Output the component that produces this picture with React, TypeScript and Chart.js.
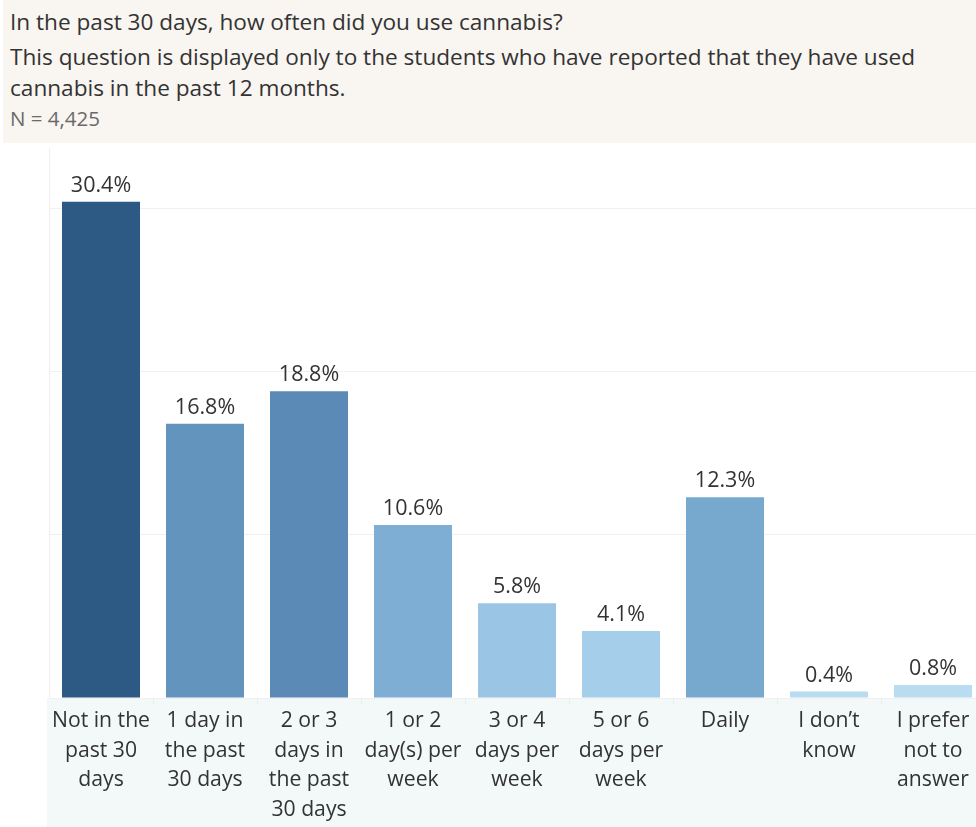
import React, { useEffect, useRef } from "react";
import { Chart, registerables } from "chart.js";

Chart.register(...registerables);

const categories: string[][] = [
  ["Not in the", "past 30", "days"],
  ["1 day in", "the past", "30 days"],
  ["2 or 3", "days in", "the past", "30 days"],
  ["1 or 2", "day(s) per", "week"],
  ["3 or 4", "days per", "week"],
  ["5 or 6", "days per", "week"],
  ["Daily"],
  ["I don\u2019t", "know"],
  ["I prefer", "not to", "answer"],
];
const values: number[] = [30.4, 16.8, 18.8, 10.6, 5.8, 4.1, 12.3, 0.4, 0.8];
const valueLabels: string[] = ["30.4%", "16.8%", "18.8%", "10.6%", "5.8%", "4.1%", "12.3%", "0.4%", "0.8%"];
const gridTicks: number[] = [0, 10, 20, 30];
const barColors: string[] = [
  "#2d5985",
  "#6394bd",
  "#5a8ab5",
  "#7faed4",
  "#9bc5e4",
  "#a4cee9",
  "#77a8ce",
  "#b9dcf1",
  "#b9dcf1",
];
const titleLines: string[] = [
  "In the past 30 days, how often did you use cannabis?",
  "This question is displayed only to the students who have reported that they have used",
  "cannabis in the past 12 months.",
];
const nLabel = "N = 4,425";

const FONT = "'Open Sans', 'Noto Sans', sans-serif";

export default function App() {
  const ref = useRef<HTMLCanvasElement | null>(null);

  useEffect(() => {
    if (!ref.current) return;
    const bgPlugin = {
      id: "labelBg",
      beforeDraw(chart: any) {
        const { ctx, chartArea } = chart;
        ctx.save();
        ctx.fillStyle = "#f3f8f8";
        ctx.fillRect(chartArea.left - 2, chartArea.bottom, chartArea.right - chartArea.left + 2, chart.height - chartArea.bottom);
        const xs = chart.scales.x;
        ctx.strokeStyle = "#e6eded";
        ctx.lineWidth = 1;
        for (let i = 1; i < values.length; i++) {
          const x = (xs.getPixelForValue(i - 1) + xs.getPixelForValue(i)) / 2;
          ctx.beginPath();
          ctx.moveTo(Math.round(x) + 0.5, chartArea.bottom);
          ctx.lineTo(Math.round(x) + 0.5, chartArea.bottom + 7);
          ctx.stroke();
        }
        ctx.restore();
      },
      afterDatasetsDraw(chart: any) {
        const { ctx } = chart;
        const meta = chart.getDatasetMeta(0);
        ctx.save();
        ctx.fillStyle = "#333333";
        ctx.font = `21.5px ${FONT}`;
        ctx.textAlign = "center";
        ctx.textBaseline = "middle";
        meta.data.forEach((bar: any, i: number) => {
          ctx.fillText(valueLabels[i], bar.x, bar.y - 16);
        });
        ctx.restore();
      },
    };

    const chart = new Chart(ref.current, {
      type: "bar",
      data: {
        labels: categories,
        datasets: [
          {
            data: values,
            backgroundColor: barColors,
            categoryPercentage: 1,
            barPercentage: 0.75,
          },
        ],
      },
      options: {
        animation: false,
        responsive: false,
        maintainAspectRatio: false,
        layout: { padding: { top: 5, left: 0, right: 0, bottom: 0 } },
        plugins: {
          legend: { display: false },
          tooltip: { enabled: false },
        },
        scales: {
          x: {
            grid: { display: false },
            border: { display: false },
            ticks: {
              color: "#333333",
              font: { family: FONT, size: 21.2, lineHeight: 1.4 },
              padding: 0,
              maxRotation: 0,
              autoSkip: false,
            },
            afterFit(scale: any) {
              scale.height = 129;
            },
          },
          y: {
            min: 0,
            max: 33.7,
            ticks: { display: false },
            afterBuildTicks(scale: any) {
              scale.ticks = gridTicks.map((v) => ({ value: v }));
            },
            grid: { color: "#f0f0f0", drawTicks: false, lineWidth: 1 },
            border: { display: true, color: "#f0f0f0" },
            afterFit(scale: any) {
              scale.width = 49;
            },
          },
        },
      },
      plugins: [bgPlugin],
    });
    return () => chart.destroy();
  }, []);

  return (
    <div style={{ position: "fixed", left: 0, top: 0, width: 976, height: 827, background: "#ffffff", fontFamily: FONT, overflow: "hidden" }}>
      <div style={{ position: "absolute", left: 3, top: 0, width: 973, height: 143, background: "#f9f5f1" }}>
        <div style={{ position: "absolute", left: 7, top: 6, fontSize: 22.6, color: "#333", whiteSpace: "nowrap", lineHeight: "31px" }}>{titleLines[0]}</div>
        <div style={{ position: "absolute", left: 7, top: 41, fontSize: 22.6, color: "#333", whiteSpace: "nowrap", lineHeight: "31px" }}>
          {titleLines[1]}
          <br />
          {titleLines[2]}
        </div>
        <div style={{ position: "absolute", left: 7, top: 104, fontSize: 20.5, color: "#6a6a6a", whiteSpace: "nowrap", lineHeight: "28px" }}>{nLabel}</div>
      </div>
      <canvas ref={ref} width={985} height={684} style={{ position: "absolute", left: 0, top: 143, width: 985, height: 684 }} />
    </div>
  );
}
